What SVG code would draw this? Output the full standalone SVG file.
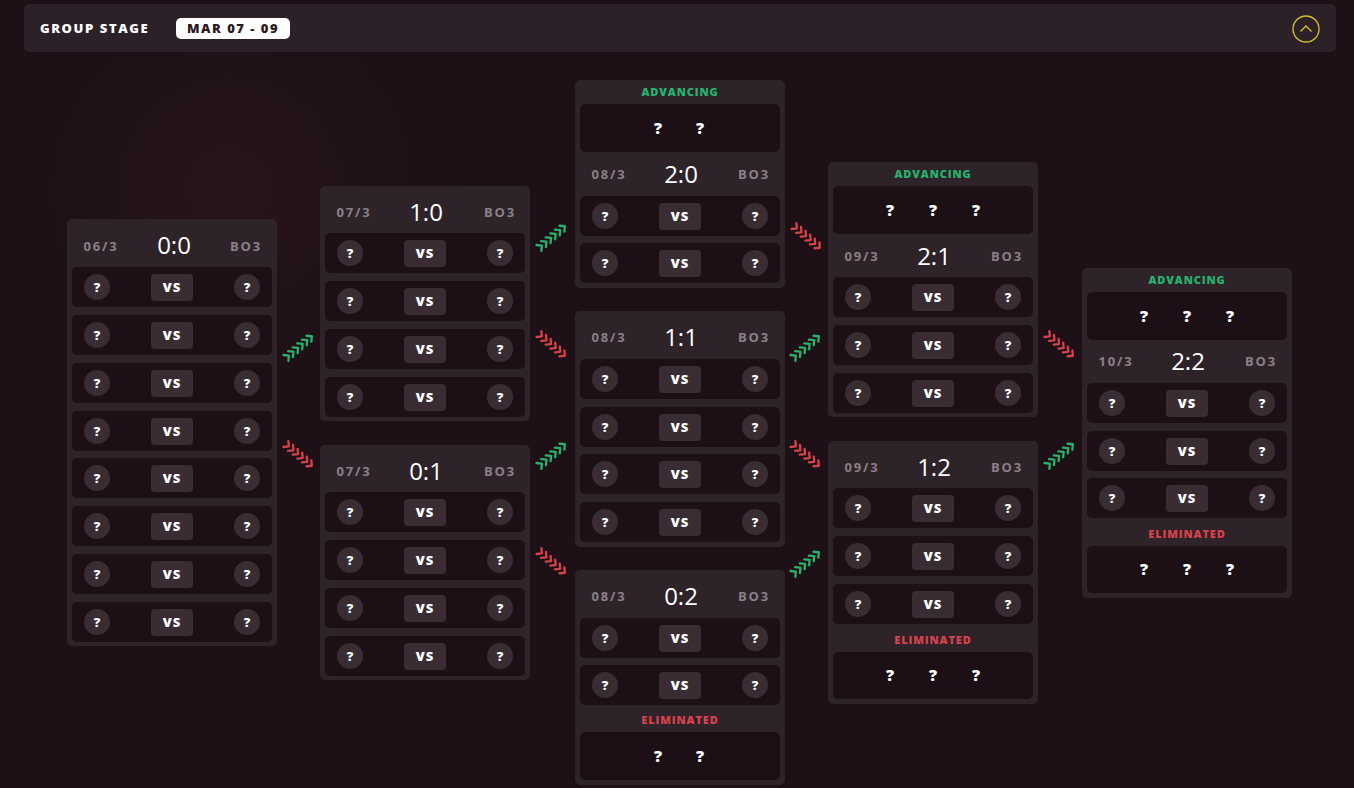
<svg xmlns="http://www.w3.org/2000/svg" xmlns:xlink="http://www.w3.org/1999/xlink" width="1354" height="788" viewBox="0 0 1354 788">
<defs>
<radialGradient id="glow" cx="230" cy="190" r="260" gradientUnits="userSpaceOnUse">
<stop offset="0" stop-color="#351a22" stop-opacity="0.45"/>
<stop offset="1" stop-color="#1e1017" stop-opacity="0"/>
</radialGradient>
<g id="row">
<rect x="0" y="0" width="200" height="40" rx="5" class="rowbg"/>
<circle cx="25" cy="20" r="13" class="chip"/>
<rect x="79" y="7" width="42" height="27" rx="4" class="chip"/>
<circle cx="175" cy="20" r="13" class="chip"/>
</g>
<g id="chev" fill="none" stroke-width="2.3" stroke-linecap="round" stroke-linejoin="round">
<path d="M-17 -3.8 L-13.3 0 L-17 3.8"/>
<path d="M-11 -3.8 L-7.3 0 L-11 3.8"/>
<path d="M-5 -3.8 L-1.3 0 L-5 3.8"/>
<path d="M1 -3.8 L4.7 0 L1 3.8"/>
<path d="M7 -3.8 L10.7 0 L7 3.8"/>
<path d="M13 -3.8 L16.7 0 L13 3.8"/>
</g>
</defs>
<style>
.bg{fill:#1e1017}
.card{fill:#2e2329}
.rowbg{fill:#1c1016}
.chip{fill:#392d33}
.box{fill:#1c1016}
text{font-family:"Open Sans","Liberation Sans",sans-serif}
.q{fill:#ffffff;font-size:13px;font-weight:800;text-anchor:middle}
.qb{fill:#ffffff;font-size:16px;font-weight:800;text-anchor:middle}
.vs{fill:#ffffff;font-size:13px;font-weight:800;text-anchor:middle;letter-spacing:1px}
.date{fill:#8b8085;font-size:13px;font-weight:700;text-anchor:middle;letter-spacing:1.8px}
.score{fill:#ffffff;font-size:24px;font-weight:500;text-anchor:middle}
.adv{fill:#27b36c;font-size:11px;font-weight:800;text-anchor:middle;letter-spacing:0.9px}
.elim{fill:#d8424b;font-size:11px;font-weight:800;text-anchor:middle;letter-spacing:0.9px}
.green{stroke:#27b36c}
.red{stroke:#d8424b}
</style>
<rect class="bg" x="0" y="0" width="1354" height="788"/>
<rect x="0" y="0" width="1354" height="788" fill="url(#glow)"/>

<g id="header">
<rect x="24" y="4" width="1312" height="48" rx="5" fill="#2d2129"/>
<text x="40" y="33" fill="#ffffff" font-size="13" font-weight="800" letter-spacing="1.6">GROUP STAGE</text>
<rect x="176" y="18" width="114" height="21" rx="5" fill="#ffffff"/>
<text x="233" y="33" fill="#2a1a22" font-size="13" font-weight="800" letter-spacing="1.5" text-anchor="middle">MAR 07 - 09</text>
<circle cx="1306" cy="29" r="13" fill="none" stroke="#d6c22a" stroke-width="1.3"/>
<path d="M1300.5 31.5 L1306 26 L1311.5 31.5" fill="none" stroke="#d6c22a" stroke-width="1.3"/>
</g>

<g id="connectors">
<use xlink:href="#chev" class="green" transform="translate(299 347) rotate(-40)"/>
<use xlink:href="#chev" class="red" transform="translate(299 455) rotate(40)"/>
<use xlink:href="#chev" class="green" transform="translate(552 237) rotate(-40)"/>
<use xlink:href="#chev" class="red" transform="translate(552 345) rotate(40)"/>
<use xlink:href="#chev" class="green" transform="translate(552 455) rotate(-40)"/>
<use xlink:href="#chev" class="red" transform="translate(552 562) rotate(40)"/>
<use xlink:href="#chev" class="red" transform="translate(807 237) rotate(40)"/>
<use xlink:href="#chev" class="green" transform="translate(806 347) rotate(-40)"/>
<use xlink:href="#chev" class="red" transform="translate(806 455) rotate(40)"/>
<use xlink:href="#chev" class="green" transform="translate(806 563) rotate(-40)"/>
<use xlink:href="#chev" class="red" transform="translate(1060 345) rotate(40)"/>
<use xlink:href="#chev" class="green" transform="translate(1060 455) rotate(-40)"/>
</g>

<!-- Column 1: 0:0 -->
<g id="r00">
<rect class="card" x="67" y="219" width="210" height="427" rx="5"/>
<text class="date" x="101" y="251">06/3</text>
<text class="score" x="174" y="254">0:0</text>
<text class="date" x="246" y="251">BO3</text>
<use xlink:href="#row" x="72" y="267"/><text class="q" x="97" y="292">?</text><text class="vs" x="172" y="292">VS</text><text class="q" x="247" y="292">?</text>
<use xlink:href="#row" x="72" y="315"/><text class="q" x="97" y="340">?</text><text class="vs" x="172" y="340">VS</text><text class="q" x="247" y="340">?</text>
<use xlink:href="#row" x="72" y="363"/><text class="q" x="97" y="388">?</text><text class="vs" x="172" y="388">VS</text><text class="q" x="247" y="388">?</text>
<use xlink:href="#row" x="72" y="411"/><text class="q" x="97" y="436">?</text><text class="vs" x="172" y="436">VS</text><text class="q" x="247" y="436">?</text>
<use xlink:href="#row" x="72" y="458"/><text class="q" x="97" y="483">?</text><text class="vs" x="172" y="483">VS</text><text class="q" x="247" y="483">?</text>
<use xlink:href="#row" x="72" y="506"/><text class="q" x="97" y="531">?</text><text class="vs" x="172" y="531">VS</text><text class="q" x="247" y="531">?</text>
<use xlink:href="#row" x="72" y="554"/><text class="q" x="97" y="579">?</text><text class="vs" x="172" y="579">VS</text><text class="q" x="247" y="579">?</text>
<use xlink:href="#row" x="72" y="602"/><text class="q" x="97" y="627">?</text><text class="vs" x="172" y="627">VS</text><text class="q" x="247" y="627">?</text>
</g>

<!-- Column 2 -->
<g id="r10">
<rect class="card" x="320" y="186" width="210" height="235" rx="5"/>
<text class="date" x="354" y="217">07/3</text>
<text class="score" x="426" y="221">1:0</text>
<text class="date" x="500" y="217">BO3</text>
<use xlink:href="#row" x="325" y="233"/><text class="q" x="350" y="258">?</text><text class="vs" x="425" y="258">VS</text><text class="q" x="500" y="258">?</text>
<use xlink:href="#row" x="325" y="281"/><text class="q" x="350" y="306">?</text><text class="vs" x="425" y="306">VS</text><text class="q" x="500" y="306">?</text>
<use xlink:href="#row" x="325" y="329"/><text class="q" x="350" y="354">?</text><text class="vs" x="425" y="354">VS</text><text class="q" x="500" y="354">?</text>
<use xlink:href="#row" x="325" y="377"/><text class="q" x="350" y="402">?</text><text class="vs" x="425" y="402">VS</text><text class="q" x="500" y="402">?</text>
</g>
<g id="r01">
<rect class="card" x="320" y="445" width="210" height="235" rx="5"/>
<text class="date" x="354" y="476">07/3</text>
<text class="score" x="426" y="480">0:1</text>
<text class="date" x="500" y="476">BO3</text>
<use xlink:href="#row" x="325" y="492"/><text class="q" x="350" y="517">?</text><text class="vs" x="425" y="517">VS</text><text class="q" x="500" y="517">?</text>
<use xlink:href="#row" x="325" y="540"/><text class="q" x="350" y="565">?</text><text class="vs" x="425" y="565">VS</text><text class="q" x="500" y="565">?</text>
<use xlink:href="#row" x="325" y="588"/><text class="q" x="350" y="613">?</text><text class="vs" x="425" y="613">VS</text><text class="q" x="500" y="613">?</text>
<use xlink:href="#row" x="325" y="636"/><text class="q" x="350" y="661">?</text><text class="vs" x="425" y="661">VS</text><text class="q" x="500" y="661">?</text>
</g>

<!-- Column 3 -->
<g id="r20">
<rect class="card" x="575" y="80" width="210" height="208" rx="5"/>
<text class="adv" x="680" y="96">ADVANCING</text>
<rect class="box" x="580" y="104" width="200" height="48" rx="5"/>
<text class="qb" x="658" y="134">?</text><text class="qb" x="700" y="134">?</text>
<text class="date" x="609" y="179">08/3</text>
<text class="score" x="681" y="183">2:0</text>
<text class="date" x="754" y="179">BO3</text>
<use xlink:href="#row" x="580" y="196"/><text class="q" x="605" y="221">?</text><text class="vs" x="680" y="221">VS</text><text class="q" x="755" y="221">?</text>
<use xlink:href="#row" x="580" y="243"/><text class="q" x="605" y="268">?</text><text class="vs" x="680" y="268">VS</text><text class="q" x="755" y="268">?</text>
</g>
<g id="r11">
<rect class="card" x="575" y="311" width="210" height="236" rx="5"/>
<text class="date" x="609" y="342">08/3</text>
<text class="score" x="681" y="346">1:1</text>
<text class="date" x="754" y="342">BO3</text>
<use xlink:href="#row" x="580" y="359"/><text class="q" x="605" y="384">?</text><text class="vs" x="680" y="384">VS</text><text class="q" x="755" y="384">?</text>
<use xlink:href="#row" x="580" y="407"/><text class="q" x="605" y="432">?</text><text class="vs" x="680" y="432">VS</text><text class="q" x="755" y="432">?</text>
<use xlink:href="#row" x="580" y="454"/><text class="q" x="605" y="479">?</text><text class="vs" x="680" y="479">VS</text><text class="q" x="755" y="479">?</text>
<use xlink:href="#row" x="580" y="502"/><text class="q" x="605" y="527">?</text><text class="vs" x="680" y="527">VS</text><text class="q" x="755" y="527">?</text>
</g>
<g id="r02">
<rect class="card" x="575" y="570" width="210" height="215" rx="5"/>
<text class="date" x="609" y="601">08/3</text>
<text class="score" x="681" y="605">0:2</text>
<text class="date" x="754" y="601">BO3</text>
<use xlink:href="#row" x="580" y="618"/><text class="q" x="605" y="643">?</text><text class="vs" x="680" y="643">VS</text><text class="q" x="755" y="643">?</text>
<use xlink:href="#row" x="580" y="665"/><text class="q" x="605" y="690">?</text><text class="vs" x="680" y="690">VS</text><text class="q" x="755" y="690">?</text>
<text class="elim" x="680" y="724">ELIMINATED</text>
<rect class="box" x="580" y="732" width="200" height="48" rx="5"/>
<text class="qb" x="658" y="762">?</text><text class="qb" x="700" y="762">?</text>
</g>

<!-- Column 4 -->
<g id="r21">
<rect class="card" x="828" y="162" width="210" height="255" rx="5"/>
<text class="adv" x="933" y="178">ADVANCING</text>
<rect class="box" x="833" y="186" width="200" height="48" rx="5"/>
<text class="qb" x="890" y="216">?</text><text class="qb" x="933" y="216">?</text><text class="qb" x="976" y="216">?</text>
<text class="date" x="862" y="261">09/3</text>
<text class="score" x="934" y="265">2:1</text>
<text class="date" x="1007" y="261">BO3</text>
<use xlink:href="#row" x="833" y="277"/><text class="q" x="858" y="302">?</text><text class="vs" x="933" y="302">VS</text><text class="q" x="1008" y="302">?</text>
<use xlink:href="#row" x="833" y="325"/><text class="q" x="858" y="350">?</text><text class="vs" x="933" y="350">VS</text><text class="q" x="1008" y="350">?</text>
<use xlink:href="#row" x="833" y="373"/><text class="q" x="858" y="398">?</text><text class="vs" x="933" y="398">VS</text><text class="q" x="1008" y="398">?</text>
</g>
<g id="r12">
<rect class="card" x="828" y="441" width="210" height="263" rx="5"/>
<text class="date" x="862" y="472">09/3</text>
<text class="score" x="934" y="476">1:2</text>
<text class="date" x="1007" y="472">BO3</text>
<use xlink:href="#row" x="833" y="488"/><text class="q" x="858" y="513">?</text><text class="vs" x="933" y="513">VS</text><text class="q" x="1008" y="513">?</text>
<use xlink:href="#row" x="833" y="536"/><text class="q" x="858" y="561">?</text><text class="vs" x="933" y="561">VS</text><text class="q" x="1008" y="561">?</text>
<use xlink:href="#row" x="833" y="584"/><text class="q" x="858" y="609">?</text><text class="vs" x="933" y="609">VS</text><text class="q" x="1008" y="609">?</text>
<text class="elim" x="933" y="644">ELIMINATED</text>
<rect class="box" x="833" y="652" width="200" height="47" rx="5"/>
<text class="qb" x="890" y="681">?</text><text class="qb" x="933" y="681">?</text><text class="qb" x="976" y="681">?</text>
</g>

<!-- Column 5 -->
<g id="r22">
<rect class="card" x="1082" y="268" width="210" height="330" rx="5"/>
<text class="adv" x="1187" y="284">ADVANCING</text>
<rect class="box" x="1087" y="292" width="200" height="48" rx="5"/>
<text class="qb" x="1144" y="322">?</text><text class="qb" x="1187" y="322">?</text><text class="qb" x="1230" y="322">?</text>
<text class="date" x="1116" y="366">10/3</text>
<text class="score" x="1188" y="370">2:2</text>
<text class="date" x="1261" y="366">BO3</text>
<use xlink:href="#row" x="1087" y="383"/><text class="q" x="1112" y="408">?</text><text class="vs" x="1187" y="408">VS</text><text class="q" x="1262" y="408">?</text>
<use xlink:href="#row" x="1087" y="431"/><text class="q" x="1112" y="456">?</text><text class="vs" x="1187" y="456">VS</text><text class="q" x="1262" y="456">?</text>
<use xlink:href="#row" x="1087" y="478"/><text class="q" x="1112" y="503">?</text><text class="vs" x="1187" y="503">VS</text><text class="q" x="1262" y="503">?</text>
<text class="elim" x="1187" y="538">ELIMINATED</text>
<rect class="box" x="1087" y="546" width="200" height="47" rx="5"/>
<text class="qb" x="1144" y="575">?</text><text class="qb" x="1187" y="575">?</text><text class="qb" x="1230" y="575">?</text>
</g>
</svg>
